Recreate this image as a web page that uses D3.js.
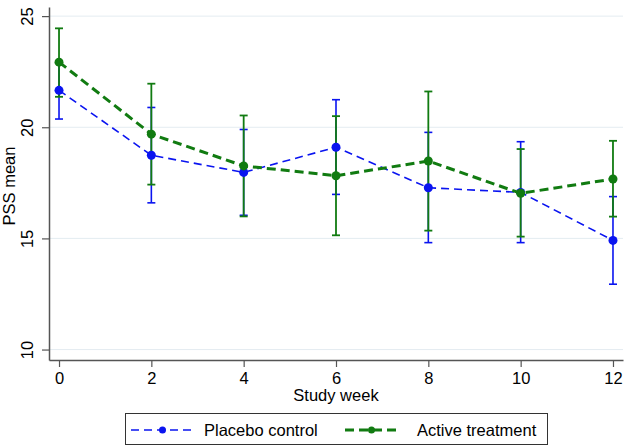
<!DOCTYPE html>
<html><head><meta charset="utf-8">
<script src="https://cdn.jsdelivr.net/npm/d3@7"></script>
<style>body{margin:0;background:#fff}svg{display:block;font-family:"Liberation Sans",Arial,sans-serif}</style>
</head><body><svg id="c" width="630" height="448"></svg>
<script>
const weeks = [0, 2, 4, 6, 8, 10, 12];
const placeboMean = [21.66, 18.74, 17.97, 19.1, 17.28, 17.07, 14.91];
const placeboLow  = [20.37, 16.6, 16.04, 16.98, 14.81, 14.81, 12.94];
const placeboHigh = [22.93, 20.89, 19.9, 21.24, 19.77, 19.35, 16.88];
const activeMean = [22.93, 19.69, 18.26, 17.82, 18.48, 17.03, 17.67];
const activeLow  = [21.37, 17.42, 15.99, 15.14, 15.35, 15.08, 15.98];
const activeHigh = [24.45, 21.96, 20.53, 20.5, 21.61, 19.02, 19.39];
const yTicks = [10, 15, 20, 25];
const xTicks = [0, 2, 4, 6, 8, 10, 12];
const seriesNames = ["Placebo control", "Active treatment"];

const svg = d3.select("#c");
const L = 49, R = 623, T = 7, B = 360;
const x = d3.scaleLinear().domain([-0.217, 12.217]).range([L, R]);
const y = d3.scaleLinear().domain([9.53, 25.41]).range([B, T]);

// gridlines
svg.append("g").selectAll("line").data(yTicks).join("line")
  .attr("x1", L).attr("x2", R).attr("y1", d => y(d)).attr("y2", d => y(d))
  .attr("stroke", "#e4ecf1").attr("stroke-width", 1);

// axes
const axisColor = "#555";
const gy = svg.append("g").attr("transform", `translate(${L},0)`)
  .call(d3.axisLeft(y).tickValues(yTicks).tickSize(7).tickPadding(6).tickSizeOuter(0));
gy.select(".domain").attr("stroke", axisColor).attr("stroke-width", 1.5);
gy.selectAll(".tick line").attr("stroke", axisColor).attr("stroke-width", 1.2);
gy.selectAll(".tick text").attr("font-size", 16.5).attr("fill", "#000")
  .attr("transform", "rotate(-90)").attr("text-anchor", "middle")
  .attr("x", 0).attr("y", -22).attr("dy", "0.35em");

const gx = svg.append("g").attr("transform", `translate(0,${B})`)
  .call(d3.axisBottom(x).tickValues(xTicks).tickSize(7).tickPadding(6).tickSizeOuter(0));
gx.select(".domain").attr("stroke", axisColor).attr("stroke-width", 1.5);
gx.selectAll(".tick line").attr("stroke", axisColor).attr("stroke-width", 1.2);
gx.selectAll(".tick text").attr("font-size", 16.5).attr("fill", "#000").attr("dy", "0.68em");

svg.append("text").attr("x", (L + R) / 2).attr("y", 401).attr("text-anchor", "middle")
  .attr("font-size", 16.5).text("Study week");
svg.append("text").attr("transform", `translate(15,${186}) rotate(-90)`).attr("text-anchor", "middle")
  .attr("font-size", 16.5).text("PSS mean");

const series = [
  {name: seriesNames[0], mean: placeboMean, lo: placeboLow, hi: placeboHigh, color: "#0a14f0", w: 1.6, dash: "8,5", ew: 1.6},
  {name: seriesNames[1], mean: activeMean, lo: activeLow, hi: activeHigh, color: "#117b11", w: 3, dash: "9,5", ew: 1.8}
];

// error bars
series.forEach(s => {
  const g = svg.append("g").attr("stroke", s.color).attr("stroke-width", s.ew);
  weeks.forEach((w, i) => {
    g.append("line").attr("x1", x(w)).attr("x2", x(w)).attr("y1", y(s.lo[i])).attr("y2", y(s.hi[i]));
    g.append("line").attr("x1", x(w) - 4).attr("x2", x(w) + 4).attr("y1", y(s.lo[i])).attr("y2", y(s.lo[i]));
    g.append("line").attr("x1", x(w) - 4).attr("x2", x(w) + 4).attr("y1", y(s.hi[i])).attr("y2", y(s.hi[i]));
  });
});

// lines and points
const line = d3.line().x(d => x(d[0])).y(d => y(d[1]));
series.forEach(s => {
  const pts = weeks.map((w, i) => [w, s.mean[i]]);
  svg.append("path").datum(pts).attr("d", line).attr("fill", "none")
    .attr("stroke", s.color).attr("stroke-width", s.w).attr("stroke-dasharray", s.dash);
  svg.append("g").selectAll("circle").data(pts).join("circle")
    .attr("cx", d => x(d[0])).attr("cy", d => y(d[1])).attr("r", 4.5).attr("fill", s.color);
});

// legend
const lg = svg.append("g");
lg.append("rect").attr("x", 125.5).attr("y", 413.5).attr("width", 422).attr("height", 31)
  .attr("fill", "#fff").attr("stroke", "#333").attr("stroke-width", 1);
const legPos = [{x0: 131, x1: 194, tx: 204}, {x0: 345, x1: 398, tx: 417}];
series.forEach((s, i) => {
  const p = legPos[i];
  const cy = 430;
  lg.append("line").attr("x1", p.x0).attr("x2", p.x1).attr("y1", cy).attr("y2", cy)
    .attr("stroke", s.color).attr("stroke-width", s.w).attr("stroke-dasharray", s.dash);
  lg.append("circle").attr("cx", (p.x0 + p.x1) / 2).attr("cy", cy).attr("r", 3.5).attr("fill", s.color);
  lg.append("text").attr("x", p.tx).attr("y", cy).attr("dy", "0.35em").attr("font-size", 16.5).text(s.name);
});
</script></body></html>
